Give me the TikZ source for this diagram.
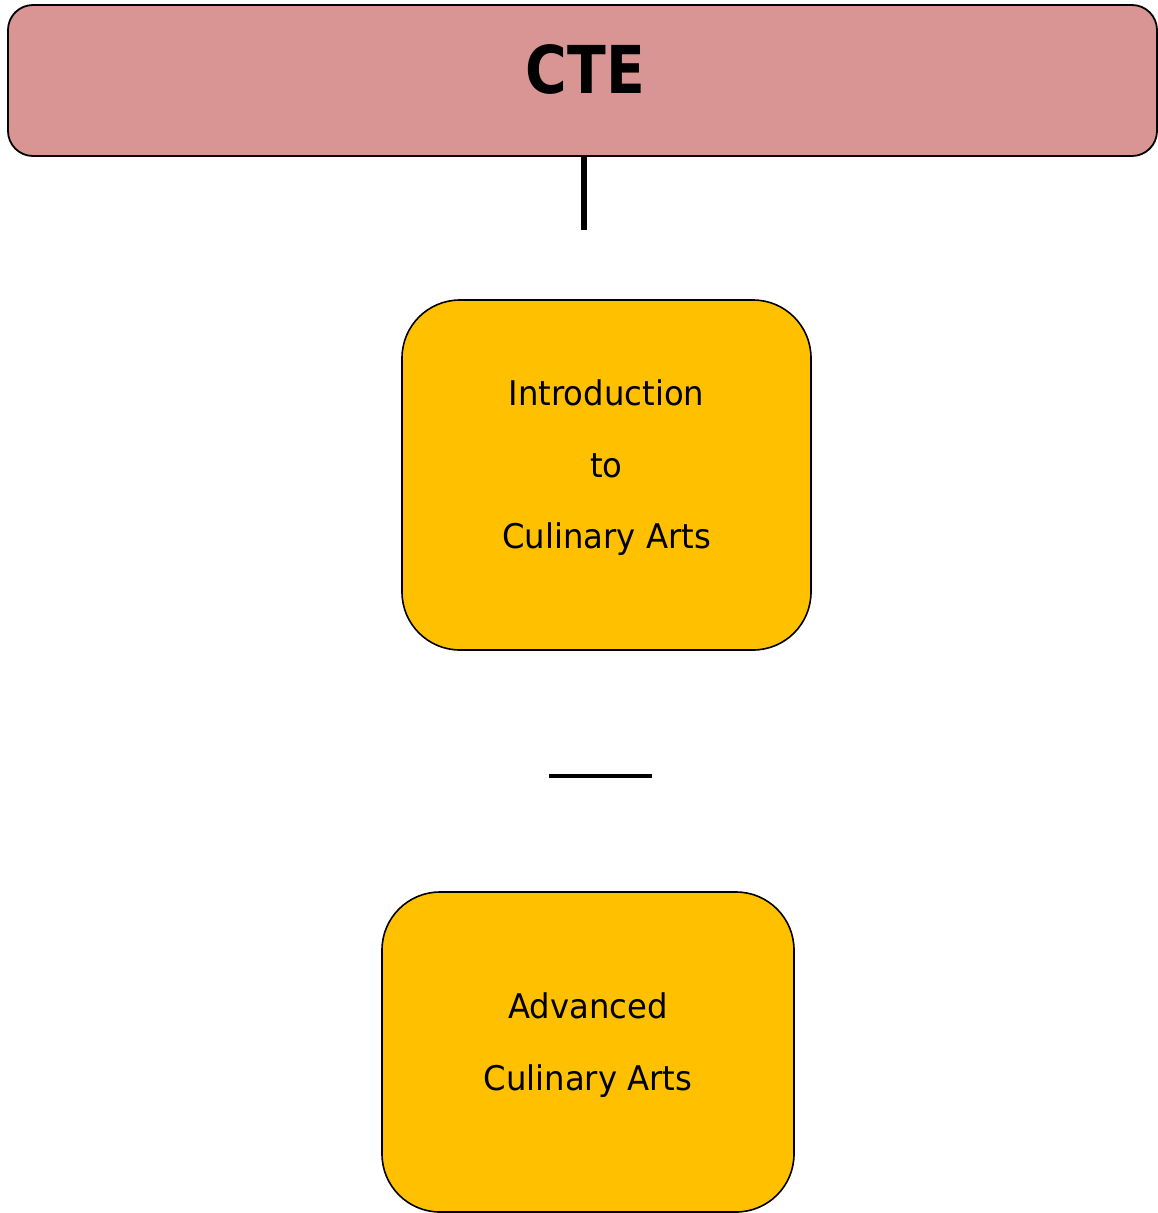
\documentclass[tikz,border=0pt]{standalone}
\usepackage{fontspec}
\setmainfont{DejaVu Sans}[FakeStretch=0.95]
\newfontfamily\titlefont{DejaVu Sans}[FakeStretch=0.86]
\definecolor{ctepink}{HTML}{D99594}
\definecolor{courseyellow}{HTML}{FFC000}
\newcommand{\lift}{\rule[-21pt]{0pt}{0pt}}
\begin{document}
\begin{tikzpicture}[x=1pt,y=-1pt]
        \tikzstyle{header}=[rectangle,rounded corners=25pt,draw=black,line width=1.8pt,fill=ctepink,minimum width=1149pt,minimum height=151pt,font=\titlefont\bfseries\fontsize{66}{70}\selectfont,text depth=23pt]
        \tikzstyle{course}=[rectangle,rounded corners=58pt,draw=black,line width=1.6pt,fill=courseyellow,align=center,font=\fontsize{34}{71.5}\selectfont]
        \tikzstyle{link}=[draw=black,line width=5.5pt]
        \useasboundingbox (0,0) rectangle (1158,1213);
       \begin{scope}
         \node [header] (cte) at (582.5,80.5) {\hspace{6pt}CTE};
         \node [course,minimum width=409pt,minimum height=350pt] (intro) at (606.5,475) {Introduction\\to\\Culinary Arts\lift};
         \node [course,minimum width=412pt,minimum height=320pt] (adv) at (588,1052) {Advanced\\Culinary Arts\lift};
         \coordinate (stub) at (584,230);
         \coordinate (gapl) at (549,776);
         \coordinate (gapr) at (652,776);
         \path[link] (cte.south -| stub) -- (stub);
         \path[link,line width=4pt] (gapl) -- (gapr);
        \end{scope}
      \end{tikzpicture}
\end{document}
